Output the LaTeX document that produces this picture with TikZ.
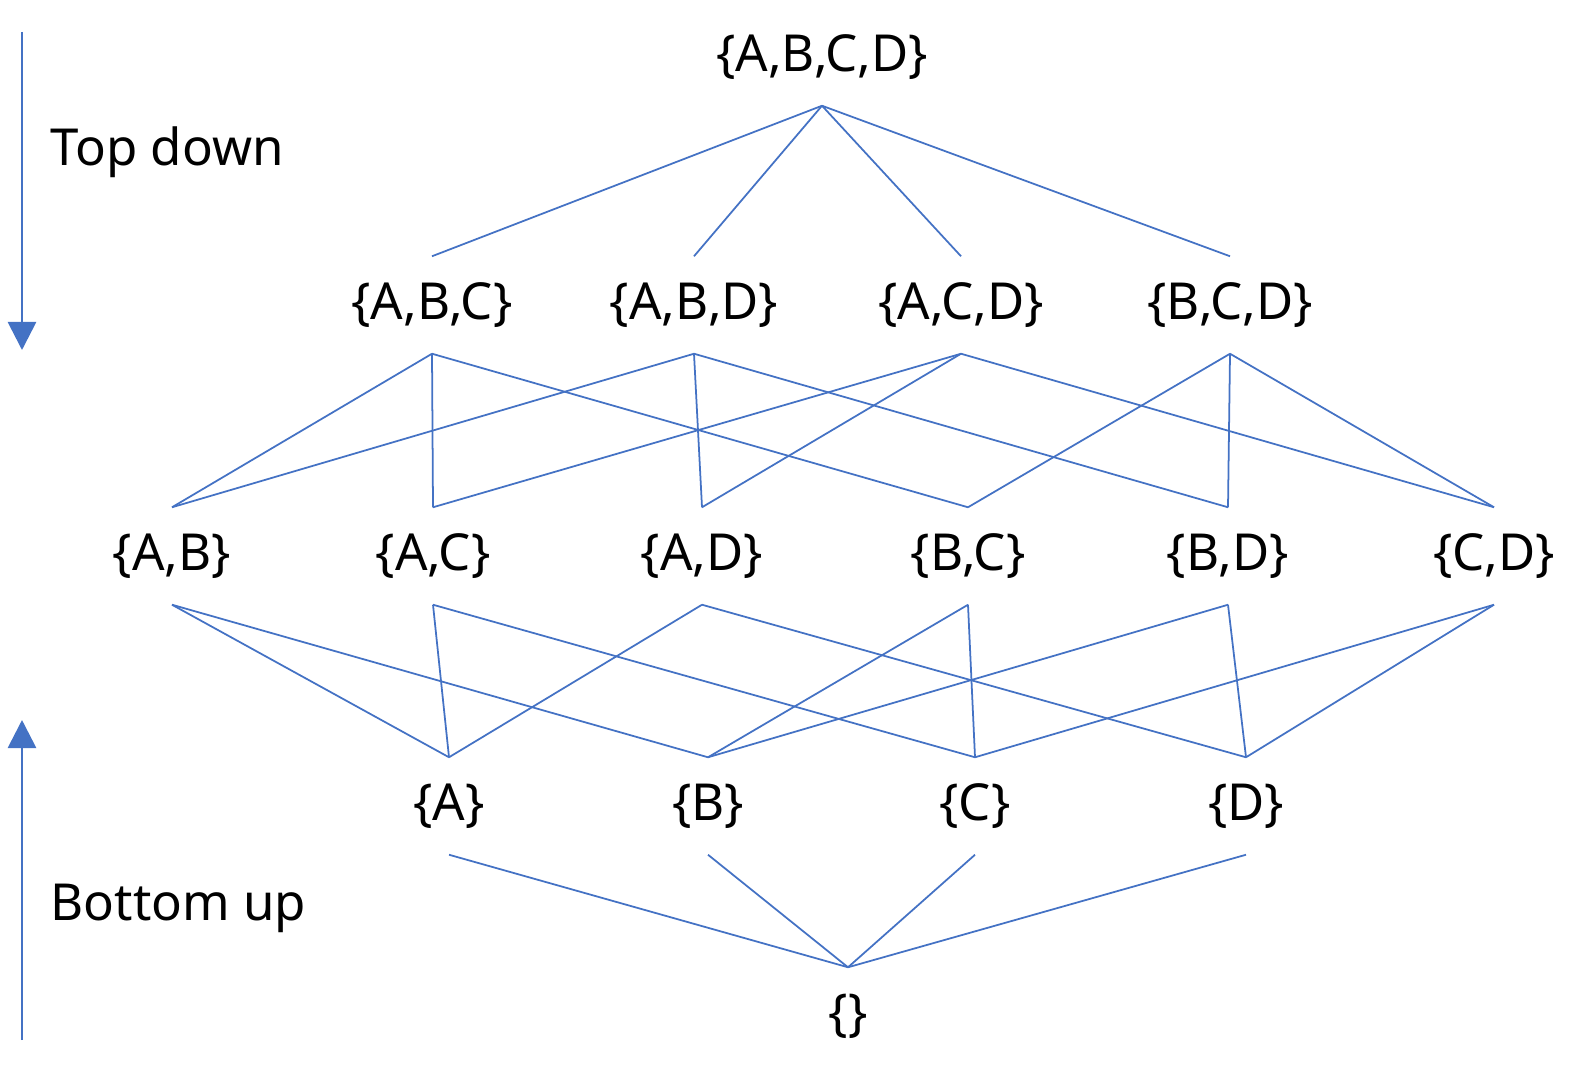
\documentclass[tikz,border=0pt]{standalone}
\usepackage{fontspec}
\setmainfont{Noto Sans}
\usetikzlibrary{arrows.meta}
\definecolor{edgeblue}{HTML}{4472C4}
\tikzset{
  setnode/.style={inner sep=0pt, minimum height=0.96cm, font=\fontsize{14.5}{18}\selectfont},
  edge/.style={edgeblue, line width=0.5pt},
  dir/.style={edgeblue, line width=0.8pt, -{Triangle[length=8pt,width=8pt]}}
}
\begin{document}
\begin{tikzpicture}[x=0.01cm, y=-0.01cm]
\useasboundingbox (0,0) rectangle (1591,1088);

% levels
\node[setnode] (ABCD) at (822,57) {\{A,B,C,D\}};
\node[setnode] (ABC) at (432,305) {\{A,B,C\}};
\node[setnode] (ABD) at (694,305) {\{A,B,D\}};
\node[setnode] (ACD) at (961,305) {\{A,C,D\}};
\node[setnode] (BCD) at (1230,305) {\{B,C,D\}};
\node[setnode] (AB) at (172,556) {\{A,B\}};
\node[setnode] (AC) at (433,556) {\{A,C\}};
\node[setnode] (AD) at (702,556) {\{A,D\}};
\node[setnode] (BC) at (968,556) {\{B,C\}};
\node[setnode] (BD) at (1228,556) {\{B,D\}};
\node[setnode] (CD) at (1494,556) {\{C,D\}};
\node[setnode] (A) at (449,806) {\{A\}};
\node[setnode] (B) at (708,806) {\{B\}};
\node[setnode] (C) at (975,806) {\{C\}};
\node[setnode] (D) at (1246,806) {\{D\}};
\node[setnode] (E) at (848,1016) {\{\}};

% edges
\foreach \t in {ABC,ABD,ACD,BCD}
  \draw[edge] (ABCD.south) -- (\t.north);
\foreach \s/\t in {ABC/AB,ABC/AC,ABC/BC,ABD/AB,ABD/AD,ABD/BD,
                   ACD/AC,ACD/AD,ACD/CD,BCD/BC,BCD/BD,BCD/CD}
  \draw[edge] (\s.south) -- (\t.north);
\foreach \s/\t in {AB/A,AB/B,AC/A,AC/C,AD/A,AD/D,BC/B,BC/C,BD/B,BD/D,CD/C,CD/D}
  \draw[edge] (\s.south) -- (\t.north);
\foreach \s in {A,B,C,D}
  \draw[edge] (\s.south) -- (E.north);

% direction
\coordinate (td1) at (22,32);
\coordinate (td2) at (22,350);
\coordinate (bu1) at (22,1040);
\coordinate (bu2) at (22,720);
\draw[dir] (td1) -- (td2);
\draw[dir] (bu1) -- (bu2);
\node[setnode, anchor=west] (topdown) at (50,152) {Top down};
\node[setnode, anchor=west] (bottomup) at (50,908) {Bottom up};
\end{tikzpicture}
\end{document}
